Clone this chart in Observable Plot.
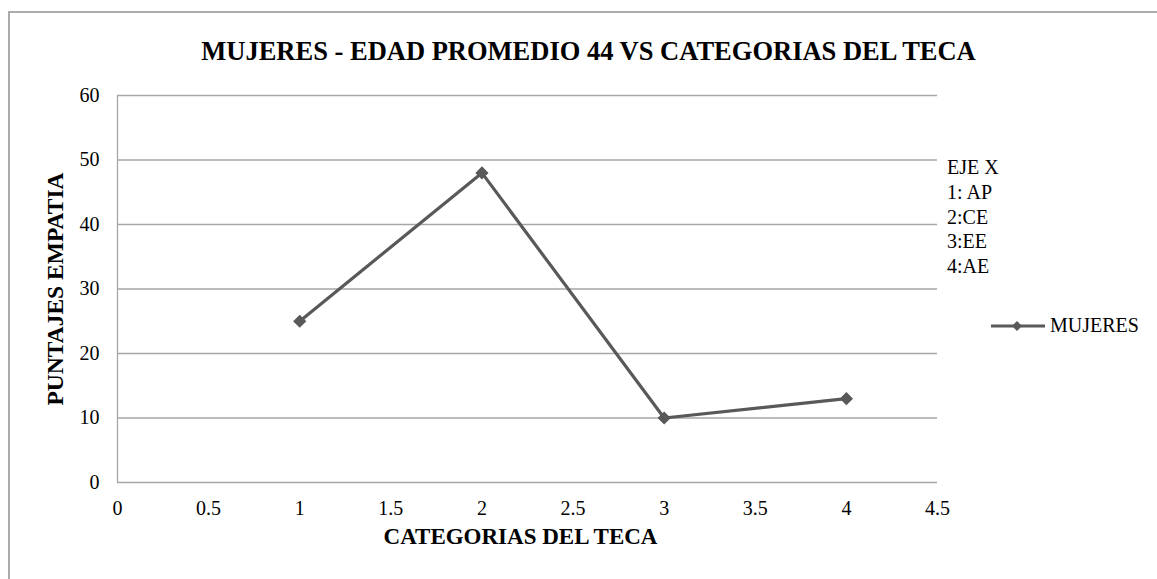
<!DOCTYPE html>
<html>
<head>
<meta charset="utf-8">
<script src="https://cdn.jsdelivr.net/npm/d3@7"></script>
<script src="https://cdn.jsdelivr.net/npm/@observablehq/plot@0.6"></script>
<style>
  body { margin: 0; background: #fff; }
  #wrap { position: relative; width: 1157px; height: 579px; overflow: hidden; background: #fff;
          font-family: "Liberation Serif", "Times New Roman", serif; color: #000; }
  #frame { position: absolute; left: 8px; top: 11px; width: 1300px; height: 800px;
           border-left: 2px solid #ababab; border-top: 2px solid #ababab; box-sizing: border-box; }
  #chart { position: absolute; left: 0; top: 0; }
  #notes { position: absolute; left: 947px; top: 155px; font-size: 20px; line-height: 24.8px; }
  #legend { position: absolute; left: 990px; top: 314px; display: flex; align-items: center; font-size: 20px; }
  #legend span { margin-left: 4px; }
</style>
</head>
<body>
<div id="wrap">
  <div id="frame"></div>
  <div id="chart"></div>
  <div id="notes"></div>
  <div id="legend"></div>
</div>
<script>
const categories = [1, 2, 3, 4];
const mujeres = [25, 48, 10, 13];
const xTicks = [0, 0.5, 1, 1.5, 2, 2.5, 3, 3.5, 4, 4.5];
const yTicks = [0, 10, 20, 30, 40, 50, 60];
const noteLines = ["EJE X", "1: AP", "2:CE", "3:EE", "4:AE"];
const seriesName = "MUJERES";
const chartTitle = "MUJERES - EDAD PROMEDIO 44 VS CATEGORIAS DEL TECA";
const xTitle = "CATEGORIAS DEL TECA";
const yTitle = "PUNTAJES EMPATIA";

const data = categories.map((c, i) => ({x: c, y: mujeres[i]}));
const lineColor = "#595959";
const gridColor = "#a6a6a6";
const serif = "'Liberation Serif', 'Times New Roman', serif";

const chart = Plot.plot({
  width: 1157,
  height: 579,
  marginLeft: 117,
  marginRight: 220,
  marginTop: 95,
  marginBottom: 97,
  style: {fontFamily: serif, fontSize: "20px", color: "#000", background: "transparent", overflow: "visible"},
  x: {domain: [0, 4.5], label: null},
  y: {domain: [0, 60], label: null},
  marks: [
    Plot.gridY(yTicks, {stroke: gridColor, strokeOpacity: 1, strokeWidth: 1.3}),
    Plot.ruleX([0], {stroke: gridColor, strokeWidth: 1.3}),
    Plot.axisX(xTicks, {tickSize: 0, tickPadding: 18, tickFormat: d => String(d), fontSize: 20, fill: "#000"}),
    Plot.axisY(yTicks, {tickSize: 0, tickPadding: 18, tickFormat: d => String(d), fontSize: 20, fill: "#000"}),
    Plot.line(data, {x: "x", y: "y", stroke: lineColor, strokeWidth: 3.2}),
    Plot.dot(data, {x: "x", y: "y", symbol: "diamond2", r: 5, fill: lineColor, stroke: lineColor}),
    Plot.text([chartTitle], {frameAnchor: "top", dx: 61, dy: -54, fontSize: 26.5, fontWeight: "bold", fill: "#000"}),
    Plot.text([xTitle], {frameAnchor: "bottom", dx: -7, dy: 61, fontSize: 23, fontWeight: "bold", fill: "#000"}),
    Plot.text([yTitle], {frameAnchor: "left", textAnchor: "middle", dx: -62, rotate: -90, fontSize: 23.5, fontWeight: "bold", fill: "#000"})
  ]
});
document.getElementById("chart").appendChild(chart);

const notes = document.getElementById("notes");
noteLines.forEach(t => { const d = document.createElement("div"); d.textContent = t; notes.appendChild(d); });

const legend = document.getElementById("legend");
legend.innerHTML = `<svg width="56" height="14" viewBox="0 0 56 14"><line x1="1" y1="7" x2="55" y2="7" stroke="${lineColor}" stroke-width="3.2"/><path d="M27,2 L32,7 L27,12 L22,7 Z" fill="${lineColor}"/></svg>`;
const lab = document.createElement("span");
lab.textContent = seriesName;
legend.appendChild(lab);
</script>
</body>
</html>
